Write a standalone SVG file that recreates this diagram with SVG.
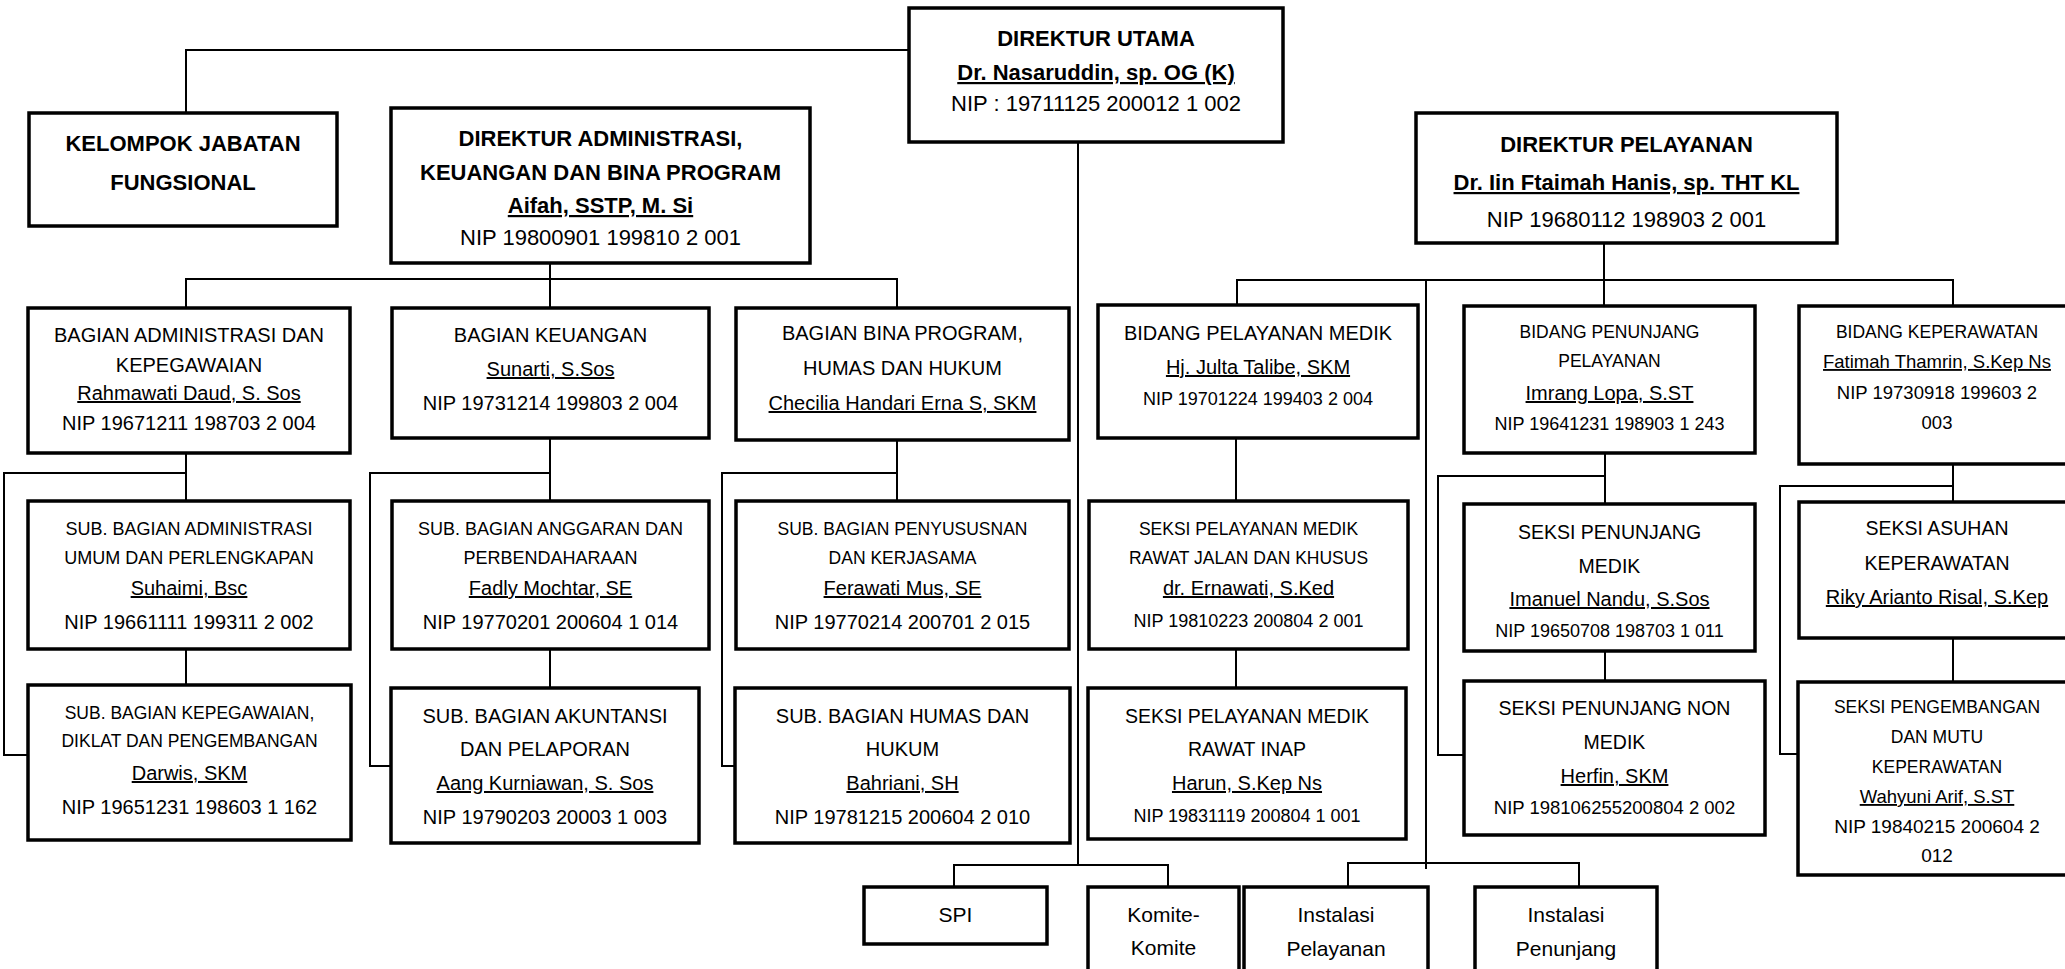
<svg xmlns="http://www.w3.org/2000/svg" width="2065" height="969" viewBox="0 0 2065 969">
<style>
text{font-family:"Liberation Sans",Arial,sans-serif;fill:#000;text-anchor:middle}
.b{font-weight:bold;font-size:22px}
.r22{font-size:22px}
.r21{font-size:21px}
.r20{font-size:20px}
.r195{font-size:19.5px}
.r19{font-size:19px}
.r185{font-size:18.5px}
.r18{font-size:18px}
.r175{font-size:17.5px}
.u{text-decoration:underline}
rect{fill:#fff;stroke:#000;stroke-width:3.5}
#connectors path{fill:none;stroke:#000;stroke-width:2}
</style>
<rect x="0" y="0" width="2065" height="969" style="stroke:none"/>
<g id="connectors">
<path d="M909 50H186V113"/>
<path d="M1078 142V865M954 887V865H1168V887"/>
<path d="M550 263V279M186 308V279H897V308M550 279V308"/>
<path d="M1604 243V280M1237 305V280H1953V306M1604 280V306"/>
<path d="M1426 280V869M1348 887V863H1579V887"/>
<path d="M186 453V501M186 473H4V755H28M186 649V685"/>
<path d="M550 438V501M550 473H370V766H391M550 649V688"/>
<path d="M897 440V501M897 473H722V766H735"/>
<path d="M1236 438V501M1236 649V688"/>
<path d="M1605 453V504M1605 476H1438V755H1464M1605 651V681"/>
<path d="M1953 464V502M1953 486H1780V754H1798M1953 638V682"/>
</g>
<g id="direktur-utama"><rect x="909" y="8" width="374" height="134"/>
<text x="1096" y="46" class="b">DIREKTUR UTAMA</text>
<text x="1096" y="80" class="b u">Dr. Nasaruddin, sp. OG (K)</text>
<text x="1096" y="111" class="r22">NIP : 19711125 200012 1 002</text></g>
<g id="kelompok"><rect x="29" y="113" width="308" height="113"/>
<text x="183" y="151" class="b">KELOMPOK JABATAN</text>
<text x="183" y="190" class="b">FUNGSIONAL</text></g>
<g id="dir-admin"><rect x="391" y="108" width="419" height="155"/>
<text x="600.5" y="146" class="b">DIREKTUR ADMINISTRASI,</text>
<text x="600.5" y="180" class="b">KEUANGAN DAN BINA PROGRAM</text>
<text x="600.5" y="213" class="b u">Aifah, SSTP, M. Si</text>
<text x="600.5" y="245" class="r22">NIP 19800901 199810 2 001</text></g>
<g id="dir-pelayanan"><rect x="1416" y="113" width="421" height="130"/>
<text x="1626.5" y="152" class="b">DIREKTUR PELAYANAN</text>
<text x="1626.5" y="190" class="b u">Dr. Iin Ftaimah Hanis, sp. THT KL</text>
<text x="1626.5" y="227" class="r22">NIP 19680112 198903 2 001</text></g>
<g id="bag-admin"><rect x="28" y="308" width="322" height="145"/>
<text x="189" y="342" class="r20">BAGIAN ADMINISTRASI DAN</text>
<text x="189" y="372" class="r20">KEPEGAWAIAN</text>
<text x="189" y="400" class="r20 u">Rahmawati Daud, S. Sos</text>
<text x="189" y="430" class="r20">NIP 19671211 198703 2 004</text></g>
<g id="bag-keuangan"><rect x="392" y="308" width="317" height="130"/>
<text x="550.5" y="342" class="r20">BAGIAN KEUANGAN</text>
<text x="550.5" y="376" class="r20 u">Sunarti, S.Sos</text>
<text x="550.5" y="410" class="r20">NIP 19731214 199803 2 004</text></g>
<g id="bag-bina"><rect x="736" y="308" width="333" height="132"/>
<text x="902.5" y="340" class="r20">BAGIAN BINA PROGRAM,</text>
<text x="902.5" y="375" class="r20">HUMAS DAN HUKUM</text>
<text x="902.5" y="410" class="r20 u">Checilia Handari Erna S, SKM</text></g>
<g id="bid-medik"><rect x="1098" y="305" width="320" height="133"/>
<text x="1258" y="340" class="r20">BIDANG PELAYANAN MEDIK</text>
<text x="1258" y="374" class="r20 u">Hj. Julta Talibe, SKM</text>
<text x="1258" y="405" class="r18">NIP 19701224 199403 2 004</text></g>
<g id="bid-penunjang"><rect x="1464" y="306" width="291" height="147"/>
<text x="1609.5" y="338" class="r175">BIDANG PENUNJANG</text>
<text x="1609.5" y="367" class="r175">PELAYANAN</text>
<text x="1609.5" y="400" class="r20 u">Imrang Lopa, S.ST</text>
<text x="1609.5" y="430" class="r18">NIP 19641231 198903 1 243</text></g>
<g id="bid-keperawatan"><rect x="1799" y="306" width="276" height="158"/>
<text x="1937" y="338" class="r175">BIDANG KEPERAWATAN</text>
<text x="1937" y="368" class="r185 u">Fatimah Thamrin, S.Kep Ns</text>
<text x="1937" y="399" class="r185">NIP 19730918 199603 2</text>
<text x="1937" y="429" class="r185">003</text></g>
<g id="sub-umum"><rect x="28" y="501" width="322" height="148"/>
<text x="189" y="535" class="r18">SUB. BAGIAN ADMINISTRASI</text>
<text x="189" y="564" class="r18">UMUM DAN PERLENGKAPAN</text>
<text x="189" y="595" class="r20 u">Suhaimi, Bsc</text>
<text x="189" y="629" class="r20">NIP 19661111 199311 2 002</text></g>
<g id="sub-anggaran"><rect x="392" y="501" width="317" height="148"/>
<text x="550.5" y="535" class="r18">SUB. BAGIAN ANGGARAN DAN</text>
<text x="550.5" y="564" class="r18">PERBENDAHARAAN</text>
<text x="550.5" y="595" class="r20 u">Fadly Mochtar, SE</text>
<text x="550.5" y="629" class="r20">NIP 19770201 200604 1 014</text></g>
<g id="sub-penyusunan"><rect x="736" y="501" width="333" height="148"/>
<text x="902.5" y="535" class="r175">SUB. BAGIAN PENYUSUSNAN</text>
<text x="902.5" y="564" class="r175">DAN KERJASAMA</text>
<text x="902.5" y="595" class="r20 u">Ferawati Mus, SE</text>
<text x="902.5" y="629" class="r20">NIP 19770214 200701 2 015</text></g>
<g id="seksi-rj"><rect x="1089" y="501" width="319" height="148"/>
<text x="1248.5" y="535" class="r175">SEKSI PELAYANAN MEDIK</text>
<text x="1248.5" y="564" class="r175">RAWAT JALAN DAN KHUSUS</text>
<text x="1248.5" y="595" class="r20 u">dr. Ernawati, S.Ked</text>
<text x="1248.5" y="627" class="r18">NIP 19810223 200804 2 001</text></g>
<g id="seksi-pen-medik"><rect x="1464" y="504" width="291" height="147"/>
<text x="1609.5" y="539" class="r195">SEKSI PENUNJANG</text>
<text x="1609.5" y="573" class="r195">MEDIK</text>
<text x="1609.5" y="606" class="r20 u">Imanuel Nandu, S.Sos</text>
<text x="1609.5" y="637" class="r18">NIP 19650708 198703 1 011</text></g>
<g id="seksi-asuhan"><rect x="1799" y="502" width="276" height="136"/>
<text x="1937" y="535" class="r195">SEKSI ASUHAN</text>
<text x="1937" y="570" class="r195">KEPERAWATAN</text>
<text x="1937" y="604" class="r20 u">Riky Arianto Risal, S.Kep</text></g>
<g id="sub-kepegawaian"><rect x="28" y="685" width="323" height="155"/>
<text x="189.5" y="719" class="r175">SUB. BAGIAN KEPEGAWAIAN,</text>
<text x="189.5" y="747" class="r175">DIKLAT DAN PENGEMBANGAN</text>
<text x="189.5" y="780" class="r20 u">Darwis, SKM</text>
<text x="189.5" y="814" class="r20">NIP 19651231 198603 1 162</text></g>
<g id="sub-akuntansi"><rect x="391" y="688" width="308" height="155"/>
<text x="545" y="723" class="r20">SUB. BAGIAN AKUNTANSI</text>
<text x="545" y="756" class="r20">DAN PELAPORAN</text>
<text x="545" y="790" class="r20 u">Aang Kurniawan, S. Sos</text>
<text x="545" y="824" class="r20">NIP 19790203 20003 1 003</text></g>
<g id="sub-humas"><rect x="735" y="688" width="335" height="155"/>
<text x="902.5" y="723" class="r20">SUB. BAGIAN HUMAS DAN</text>
<text x="902.5" y="756" class="r20">HUKUM</text>
<text x="902.5" y="790" class="r20 u">Bahriani, SH</text>
<text x="902.5" y="824" class="r20">NIP 19781215 200604 2 010</text></g>
<g id="seksi-ri"><rect x="1088" y="688" width="318" height="151"/>
<text x="1247" y="723" class="r195">SEKSI PELAYANAN MEDIK</text>
<text x="1247" y="756" class="r195">RAWAT INAP</text>
<text x="1247" y="790" class="r20 u">Harun, S.Kep Ns</text>
<text x="1247" y="822" class="r18">NIP 19831119 200804 1 001</text></g>
<g id="seksi-non-medik"><rect x="1464" y="681" width="301" height="154"/>
<text x="1614.5" y="715" class="r195">SEKSI PENUNJANG NON</text>
<text x="1614.5" y="749" class="r195">MEDIK</text>
<text x="1614.5" y="783" class="r20 u">Herfin, SKM</text>
<text x="1614.5" y="814" class="r185">NIP 198106255200804 2 002</text></g>
<g id="seksi-pengembangan"><rect x="1798" y="682" width="277" height="193"/>
<text x="1937" y="713" class="r175">SEKSI PENGEMBANGAN</text>
<text x="1937" y="743" class="r175">DAN MUTU</text>
<text x="1937" y="773" class="r175">KEPERAWATAN</text>
<text x="1937" y="803" class="r185 u">Wahyuni Arif, S.ST</text>
<text x="1937" y="833" class="r19">NIP 19840215 200604 2</text>
<text x="1937" y="862" class="r19">012</text></g>
<g id="spi"><rect x="864" y="887" width="183" height="57"/>
<text x="955.5" y="922" class="r21">SPI</text></g>
<g id="komite"><rect x="1088" y="887" width="151" height="103"/>
<text x="1163.5" y="922" class="r21">Komite-</text>
<text x="1163.5" y="955" class="r21">Komite</text></g>
<g id="inst-pelayanan"><rect x="1244" y="887" width="184" height="103"/>
<text x="1336" y="922" class="r21">Instalasi</text>
<text x="1336" y="956" class="r21">Pelayanan</text></g>
<g id="inst-penunjang"><rect x="1475" y="887" width="182" height="103"/>
<text x="1566" y="922" class="r21">Instalasi</text>
<text x="1566" y="956" class="r21">Penunjang</text></g>
</svg>
